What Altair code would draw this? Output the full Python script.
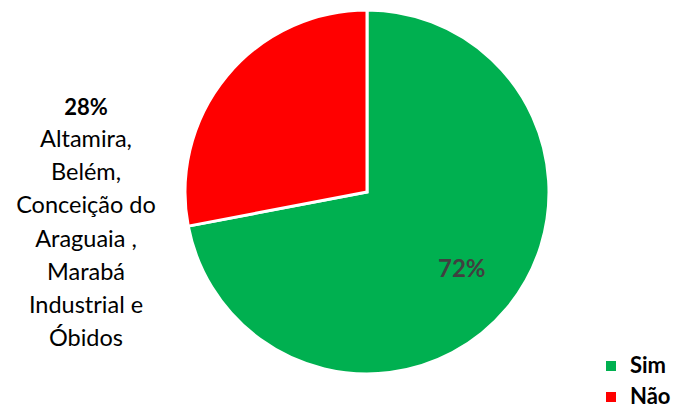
import altair as alt
import pandas as pd

categories = ["Sim", "Não"]
values = [72, 28]
colors = ["#00B050", "#FF0000"]
order = [0, 1]
label_pct = "28%"
label_lines = ["Altamira,", "Belém,", "Conceição do", "Araguaia ,", "Marabá", "Industrial e", "Óbidos"]

df = pd.DataFrame({"cat": categories, "val": values, "ord": order})
df["pct"] = [f"{v}%" for v in values]

FONT = "Lato"
CX, CY = 359, 184

base = alt.Chart(df).encode(
    theta=alt.Theta("val:Q", stack=True),
    order=alt.Order("ord:Q"),
    x=alt.value(CX),
    y=alt.value(CY),
)

pie = base.mark_arc(outerRadius=182, stroke="white", strokeWidth=3).encode(
    color=alt.Color(
        "cat:N",
        scale=alt.Scale(domain=categories, range=colors),
        sort=categories,
        legend=alt.Legend(
            title=None,
            orient="none",
            legendX=592,
            legendY=347,
            symbolType="square",
            symbolSize=100,
            symbolStrokeWidth=0,
            labelFont=FONT,
            labelFontSize=22,
            labelFontWeight="bold",
            labelColor="#000000",
            rowPadding=9,
            labelOffset=8,
        ),
    )
)

inner = base.mark_text(radius=123, font=FONT, fontSize=24, fontWeight="bold", color="#404040").encode(
    text="pct:N"
).transform_filter(alt.datum.cat == "Sim")

side_pct = alt.Chart(pd.DataFrame({"t": [label_pct]})).mark_text(
    font=FONT, fontSize=22, fontWeight="bold", color="#000000", align="center", baseline="middle"
).encode(x=alt.value(78), y=alt.value(100), text="t:N")

side_names = alt.Chart(pd.DataFrame({"t": ["\n".join(label_lines)]})).mark_text(
    font=FONT, fontSize=23.5, color="#000000", align="center", baseline="middle", lineBreak="\n", lineHeight=33.2
).encode(x=alt.value(78), y=alt.value(132), text="t:N")

chart = alt.layer(pie, inner, side_pct, side_names).properties(
    width=666, height=401, padding=0, autosize=alt.AutoSizeParams(type="none")
).configure_view(stroke=None)

chart.save("out.html", embed_options={"renderer": "svg", "actions": False})
